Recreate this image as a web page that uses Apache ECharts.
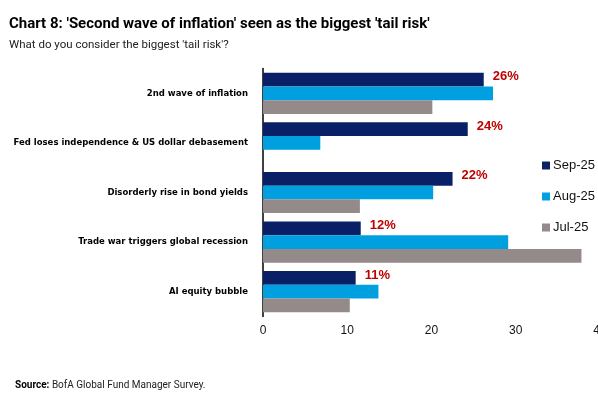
<!DOCTYPE html>
<html>
<head>
<meta charset="utf-8">
<script src="https://cdn.jsdelivr.net/npm/echarts@6/dist/echarts.min.js"></script>
<style>
  html, body { margin: 0; padding: 0; background: #fff; }
  #chart { width: 598px; height: 396px; }
</style>
</head>
<body>
<div id="chart"></div>
<script>
// categories, top to bottom
const categories = [
  "2nd wave of inflation",
  "Fed loses independence & US dollar debasement",
  "Disorderly rise in bond yields",
  "Trade war triggers global recession",
  "AI equity bubble",
];
const sep25 = [26.2, 24.3, 22.5, 11.6, 11];
const aug25 = [27.3, 6.8, 20.2, 29.1, 13.7];
const jul25 = [20.1, null, 11.5, 37.8, 10.3];
const sepLabels = ["26%", "24%", "22%", "12%", "11%"];
const xTicks = [0, 10, 20, 30, 40];

const chart = echarts.init(document.getElementById("chart"));

const option = {
  animation: false,
  title: [
    {
      text: "Chart 8: 'Second wave of inflation' seen as the biggest 'tail risk'",
      left: 4,
      top: 12,
      textStyle: { fontFamily: "Roboto", fontWeight: "bold", fontSize: 15, color: "#000" },
    },
    {
      text: "What do you consider the biggest 'tail risk'?",
      left: 4,
      top: 34,
      textStyle: { fontFamily: "Roboto", fontWeight: "normal", fontSize: 11.5, color: "#222" },
    },
    {
      text: "{b|Source:} BofA Global Fund Manager Survey.",
      left: 10,
      top: 375,
      textStyle: {
        fontFamily: "Roboto",
        fontWeight: "normal",
        fontSize: 10,
        color: "#222",
        rich: { b: { fontFamily: "Roboto", fontWeight: "bold", fontSize: 10, color: "#000" } },
      },
    },
  ],
  legend: {
    orient: "vertical",
    left: 537,
    top: 154,
    itemWidth: 8,
    itemHeight: 8,
    itemGap: 18,
    icon: "rect",
    textStyle: { fontFamily: "Liberation Sans, Arial", fontSize: 13, color: "#111", padding: [0, 0, 0, -2] },
    data: ["Sep-25", "Aug-25", "Jul-25"],
  },
  grid: { left: 263, width: 337, top: 68.5, bottom: 79.5, outerBoundsMode: "none", containLabel: false },
  xAxis: {
    type: "value",
    min: 0,
    max: 40,
    interval: 10,
    axisLine: { show: false },
    axisTick: { show: false },
    splitLine: { show: false },
    axisLabel: {
      margin: 8,
      fontFamily: "Liberation Sans, Arial",
      fontSize: 12,
      color: "#111",
      formatter: (v) => (xTicks.includes(v) ? String(v) : ""),
    },
  },
  yAxis: {
    type: "category",
    inverse: true,
    data: categories,
    axisLine: { show: true, lineStyle: { color: "#000", width: 1.5 } },
    axisTick: { show: false },
    axisLabel: {
      margin: 15,
      fontFamily: "DejaVu Sans",
      fontWeight: "bold",
      fontSize: 8.5,
      color: "#000",
    },
  },
  series: [
    {
      name: "Sep-25",
      type: "bar",
      data: sep25,
      barGap: "0%",
      barCategoryGap: "17%",
      itemStyle: { color: "#0a2066" },
      label: {
        show: true,
        position: "right",
        distance: 9,
        offset: [0, -3],
        fontFamily: "Liberation Sans, Arial",
        fontWeight: "bold",
        fontSize: 13,
        color: "#c00000",
        formatter: (p) => sepLabels[p.dataIndex],
      },
    },
    {
      name: "Aug-25",
      type: "bar",
      data: aug25,
      barGap: "0%",
      barCategoryGap: "17%",
      itemStyle: { color: "#009fe0" },
    },
    {
      name: "Jul-25",
      type: "bar",
      data: jul25,
      barGap: "0%",
      barCategoryGap: "17%",
      itemStyle: { color: "#948a8a" },
    },
  ],
};

chart.setOption(option);
</script>
</body>
</html>
